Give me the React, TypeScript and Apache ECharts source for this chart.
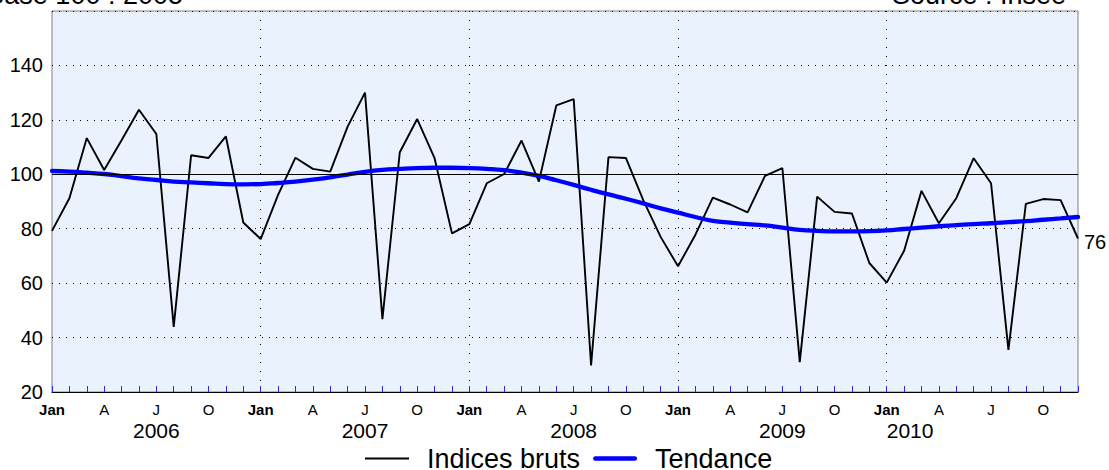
import React, { useEffect, useRef } from 'react';
import * as echarts from 'echarts';

const FONT = 'Arial, "Liberation Sans", Helvetica, sans-serif';

const years = ['2006', '2007', '2008', '2009', '2010'];
const monthNames = ['janv', 'févr', 'mars', 'avr', 'mai', 'juin', 'juil', 'août', 'sept', 'oct', 'nov', 'déc'];
const monthTickLabels = ['Jan', '', '', 'A', '', '', 'J', '', '', 'O', '', ''];
const categories = years.flatMap((y) => monthNames.map((m) => `${m} ${y}`));

const indicesBruts = [
  79.2, 91.2, 113.3, 101.6, 112.5, 123.7, 114.8, 43.9, 107.0, 106.0, 113.9, 82.3,
  76.2, 92.4, 106.1, 102.0, 101.0, 117.5, 130.0, 46.8, 108.1, 120.3, 105.9, 78.3,
  81.7, 96.7, 100.1, 112.4, 97.3, 125.3, 127.6, 29.8, 106.3, 106.0, 90.5, 77.0,
  66.2, 77.8, 91.4, 88.9, 86.0, 99.4, 102.3, 31.0, 91.8, 86.2, 85.6, 67.4,
  60.2, 71.9, 93.9, 82.0, 91.2, 105.9, 96.7, 35.5, 89.1, 90.9, 90.5, 76.4,
];

const tendance = [
  101.2, 101.0, 100.6, 100.1, 99.3, 98.5, 97.9, 97.3, 97.0, 96.7, 96.4, 96.3,
  96.4, 96.8, 97.3, 98.0, 98.9, 99.9, 100.9, 101.6, 102.0, 102.3, 102.4, 102.4,
  102.3, 102.0, 101.5, 100.6, 99.4, 97.8, 96.1, 94.3, 92.6, 91.0, 89.3, 87.5,
  85.9, 84.3, 82.9, 82.2, 81.7, 81.2, 80.4, 79.6, 79.2, 79.0, 79.0, 79.1,
  79.4, 79.9, 80.4, 80.9, 81.3, 81.7, 82.0, 82.4, 82.8, 83.3, 83.8, 84.3,
];

const yMin = 20;
const yMax = 160;
const yStep = 20;
const referenceLevel = 100;

const seriesNames = ['Indices bruts', 'Tendance'];
const baseText = 'Base 100 : 2005';
const sourceText = 'Source : Insee';

// legend icons: a thin line and a thick rounded line, in a 44x14 box
const thinLineIcon = 'path://M0,0L0,0M0,6H44V8H0ZM44,14L44,14';
const thickLineIcon =
  'path://M0,0L0,0M2.25,4.75H41.75A2.25,2.25 0 0 1 41.75,9.25H2.25A2.25,2.25 0 0 1 2.25,4.75ZM44,14L44,14';

export default function App() {
  const ref = useRef<HTMLDivElement>(null);

  useEffect(() => {
    if (!ref.current) return;
    const chart = echarts.init(ref.current, undefined, { renderer: 'svg' });

    const xLabelFormatter = (_v: string, index: number) => {
      const m = index % 12;
      const yi = Math.floor(index / 12);
      const t = monthTickLabels[m];
      const line1 = t ? (m === 0 ? `{jan|${t}}` : `{m|${t}}`) : '';
      if (yi < 4 && m === 6) return `${line1}\n{y|${years[yi]}}`;
      if (yi === 4 && m === 1) return `{m| }\n{y2|${years[yi]}}`;
      return line1;
    };

    chart.setOption({
      animation: false,
      textStyle: { fontFamily: FONT },
      grid: {
        left: 52,
        right: 31,
        top: 11,
        bottom: 78,
        show: true,
        backgroundColor: '#EAF2FE',
        borderColor: '#808080',
        borderWidth: 1,
      },
      legend: {
        left: 360,
        top: 440,
        itemWidth: 44,
        itemHeight: 14,
        itemGap: 13,
        symbolKeepAspect: true,
        itemStyle: { borderWidth: 0 },
        textStyle: { fontSize: 27, lineHeight: 22, color: '#000', fontFamily: FONT, padding: [0, 0, 0, 13] },
        data: [
          { name: seriesNames[0], icon: thinLineIcon, itemStyle: { color: '#000', borderWidth: 0 } },
          { name: seriesNames[1], icon: thickLineIcon, itemStyle: { color: '#0000ff', borderWidth: 0 } },
        ],
      },
      xAxis: {
        type: 'category',
        data: categories,
        boundaryGap: false,
        axisLine: { lineStyle: { color: '#000', width: 1 } },
        axisTick: { show: true, interval: 0, inside: true, length: 6, lineStyle: { color: '#2a2aff', width: 1 } },
        axisLabel: {
          interval: 0,
          margin: 9,
          color: '#000',
          fontFamily: FONT,
          formatter: xLabelFormatter,
          rich: {
            m: { fontSize: 15, lineHeight: 16, color: '#000', fontFamily: FONT },
            jan: { fontSize: 15, lineHeight: 16, fontWeight: 'bold', color: '#000', fontFamily: FONT },
            y: { fontSize: 21, lineHeight: 27, color: '#000', fontFamily: FONT },
            y2: { fontSize: 21, lineHeight: 27, color: '#000', fontFamily: FONT, padding: [0, 0, 0, 12] },
          },
        },
        splitLine: {
          show: true,
          interval: (i: number) => i > 0 && i % 12 === 0,
          lineStyle: { color: '#000', width: 1, type: [1, 8] },
        },
      },
      yAxis: {
        type: 'value',
        min: yMin,
        max: yMax,
        interval: yStep,
        axisLine: { show: false },
        axisTick: { show: false },
        axisLabel: {
          fontSize: 20,
          color: '#000',
          margin: 9,
          fontFamily: FONT,
          formatter: (v: number) => (v === yMax ? '' : String(v)),
        },
        splitLine: { show: true, lineStyle: { color: '#000', width: 1, type: [1, 6] } },
      },
      series: [
        {
          name: seriesNames[0],
          type: 'line',
          data: indicesBruts,
          symbol: 'none',
          color: '#000',
          lineStyle: { color: '#000', width: 1.9 },
          endLabel: {
            show: true,
            formatter: (p: any) => String(Math.round(p.value)),
            fontSize: 20,
            color: '#000',
            fontFamily: FONT,
            distance: 6,
            offset: [0, 3],
          },
          markLine: {
            silent: true,
            symbol: ['none', 'none'],
            label: { show: false },
            lineStyle: { color: '#000', width: 1, type: 'solid' },
            data: [{ yAxis: referenceLevel }],
          },
          z: 2,
        },
        {
          name: seriesNames[1],
          type: 'line',
          data: tendance,
          smooth: true,
          symbol: 'none',
          color: '#0000ff',
          lineStyle: { color: '#0000ff', width: 4.3, cap: 'round' },
          z: 3,
        },
      ],
      graphic: [
        {
          type: 'text',
          x: 183,
          y: -5,
          style: { text: baseText, fontSize: 27, fontFamily: FONT, fill: '#000', align: 'right', verticalAlign: 'middle' },
        },
        {
          type: 'text',
          x: 1066,
          y: -5,
          style: { text: sourceText, fontSize: 27, fontFamily: FONT, fill: '#000', align: 'right', verticalAlign: 'middle' },
        },
      ],
    });

    return () => chart.dispose();
  }, []);

  return (
    <div
      ref={ref}
      style={{ position: 'fixed', left: 0, top: 0, width: 1109, height: 470, background: '#fff' }}
    />
  );
}
